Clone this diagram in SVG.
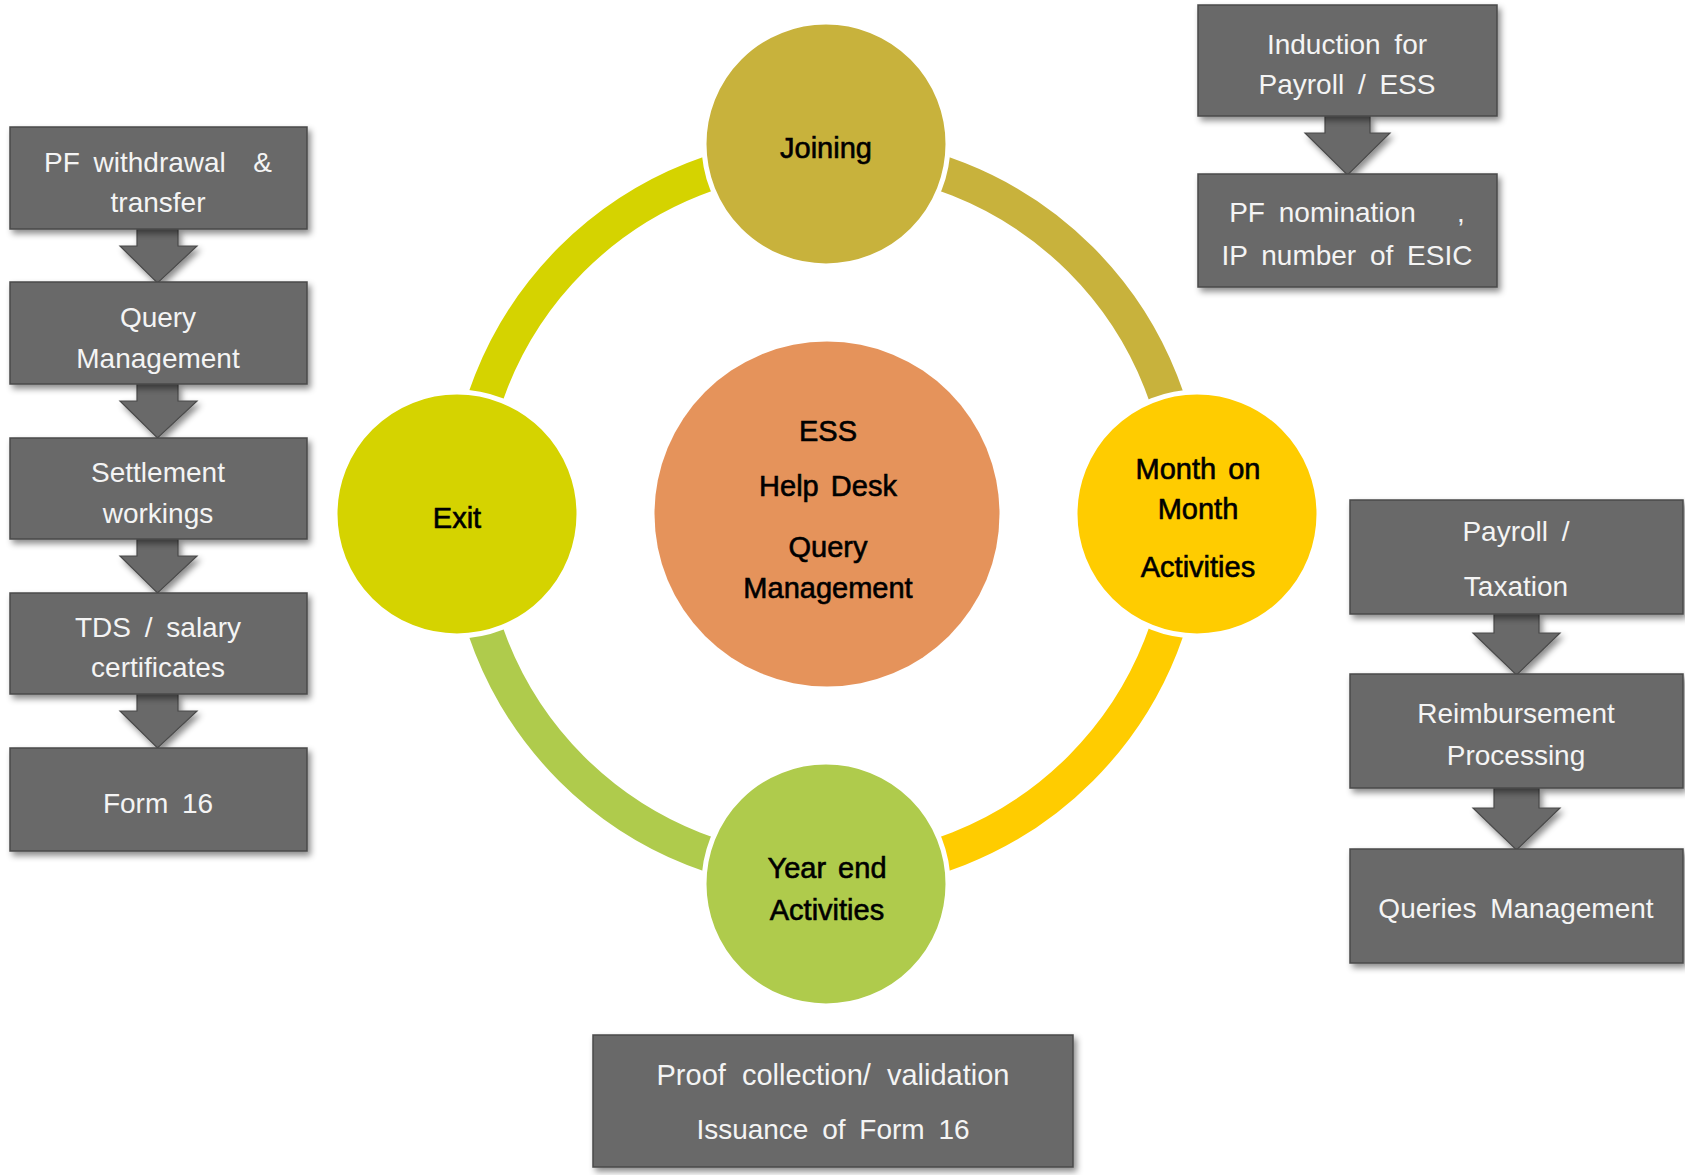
<svg xmlns="http://www.w3.org/2000/svg" width="1685" height="1175" viewBox="0 0 1685 1175">
<defs>
<filter id="sh" x="-10%" y="-10%" width="125%" height="130%">
<feDropShadow dx="3" dy="4" stdDeviation="3" flood-color="#000" flood-opacity="0.45"/>
</filter>
<style>
.box{fill:#696969;stroke:#4a4a4a;stroke-width:1.5;filter:url(#sh)}
.arr{fill:#696969;stroke:#4a4a4a;stroke-width:1.2;filter:url(#sh)}
.bt{font-family:"Liberation Sans",Arial,sans-serif;font-size:28px;fill:#f4f4f4;text-anchor:middle;word-spacing:6px;white-space:pre}
.ct{font-family:"Liberation Sans",Arial,sans-serif;font-size:29px;fill:#000;stroke:#000;stroke-width:0.6;text-anchor:middle;word-spacing:4px}
.ring{fill:none;stroke-width:35}
.node{stroke:#fff;stroke-width:5}
</style>
</defs>
<rect width="1685" height="1175" fill="#fff"/>

<g id="connectors">
<path class="ring" stroke="#D5D300" d="M466 514 A360 360 0 0 1 826 154"/>
<path class="ring" stroke="#C8B23C" d="M826 154 A360 360 0 0 1 1186 514"/>
<path class="ring" stroke="#FFCC00" d="M1186 514 A360 360 0 0 1 826 874"/>
<path class="ring" stroke="#AFCB4C" d="M826 874 A360 360 0 0 1 466 514"/>
<polygon class="arr" points="137,229 178,229 178,246 197,246 157.5,283 120,246 137,246"/>
<polygon class="arr" points="137,384 178,384 178,401 197,401 157.5,438 120,401 137,401"/>
<polygon class="arr" points="137,539 178,539 178,556 197,556 157.5,593 120,556 137,556"/>
<polygon class="arr" points="137,694 178,694 178,711 197,711 157.5,748 120,711 137,711"/>
<polygon class="arr" points="1325,116 1370,116 1370,133 1390,133 1347.5,175 1305,133 1325,133"/>
<polygon class="arr" points="1494,614 1539,614 1539,633 1560,633 1516.5,675 1473,633 1494,633"/>
<polygon class="arr" points="1494,788 1539,788 1539,808 1560,808 1516.5,850 1473,808 1494,808"/>
</g>

<g id="joining"><circle class="node" cx="826" cy="144" r="122" fill="#C8B23C"/><text class="ct" x="826" y="158">Joining</text></g>
<g id="month"><circle class="node" cx="1197" cy="514" r="122" fill="#FFCC00"/>
<text class="ct" x="1198" y="479">Month on</text><text class="ct" x="1198" y="519">Month</text><text class="ct" x="1198" y="577">Activities</text></g>
<g id="yearend"><circle class="node" cx="826" cy="884" r="122" fill="#AFCB4C"/>
<text class="ct" x="827" y="878">Year end</text><text class="ct" x="827" y="920">Activities</text></g>
<g id="exit"><circle class="node" cx="457" cy="514" r="122" fill="#D5D300"/><text class="ct" x="457" y="528">Exit</text></g>
<g id="center"><circle cx="827" cy="514" r="172.5" fill="#E5935B"/>
<text class="ct" x="828" y="441">ESS</text><text class="ct" x="828" y="496">Help Desk</text><text class="ct" x="828" y="557">Query</text><text class="ct" x="828" y="598">Management</text></g>

<g id="left1"><rect class="box" x="10" y="127" width="297" height="102"/><text class="bt" x="158" y="172">PF withdrawal  &amp;</text><text class="bt" x="158" y="212">transfer</text></g>
<g id="left2"><rect class="box" x="10" y="282" width="297" height="102"/><text class="bt" x="158" y="327">Query</text><text class="bt" x="158" y="368">Management</text></g>
<g id="left3"><rect class="box" x="10" y="438" width="297" height="101"/><text class="bt" x="158" y="482">Settlement</text><text class="bt" x="158" y="523">workings</text></g>
<g id="left4"><rect class="box" x="10" y="593" width="297" height="101"/><text class="bt" x="158" y="637">TDS / salary</text><text class="bt" x="158" y="677">certificates</text></g>
<g id="left5"><rect class="box" x="10" y="748" width="297" height="103"/><text class="bt" x="158" y="813">Form 16</text></g>

<g id="top1"><rect class="box" x="1198" y="5" width="299" height="111"/><text class="bt" x="1347" y="54">Induction for</text><text class="bt" x="1347" y="94">Payroll / ESS</text></g>
<g id="top2"><rect class="box" x="1198" y="174" width="299" height="113"/><text class="bt" x="1347" y="222">PF nomination   ,</text><text class="bt" x="1347" y="265">IP number of ESIC</text></g>

<g id="right1"><rect class="box" x="1350" y="500" width="333" height="114"/><text class="bt" x="1516" y="541">Payroll /</text><text class="bt" x="1516" y="596">Taxation</text></g>
<g id="right2"><rect class="box" x="1350" y="674" width="333" height="114"/><text class="bt" x="1516" y="723">Reimbursement</text><text class="bt" x="1516" y="765">Processing</text></g>
<g id="right3"><rect class="box" x="1350" y="849" width="333" height="114"/><text class="bt" x="1516" y="918">Queries Management</text></g>

<g id="bottom"><rect class="box" x="593" y="1035" width="480" height="132"/><text class="bt" x="833" y="1085" style="font-size:29px;word-spacing:8px">Proof collection/ validation</text><text class="bt" x="833" y="1139">Issuance of Form 16</text></g>
</svg>
